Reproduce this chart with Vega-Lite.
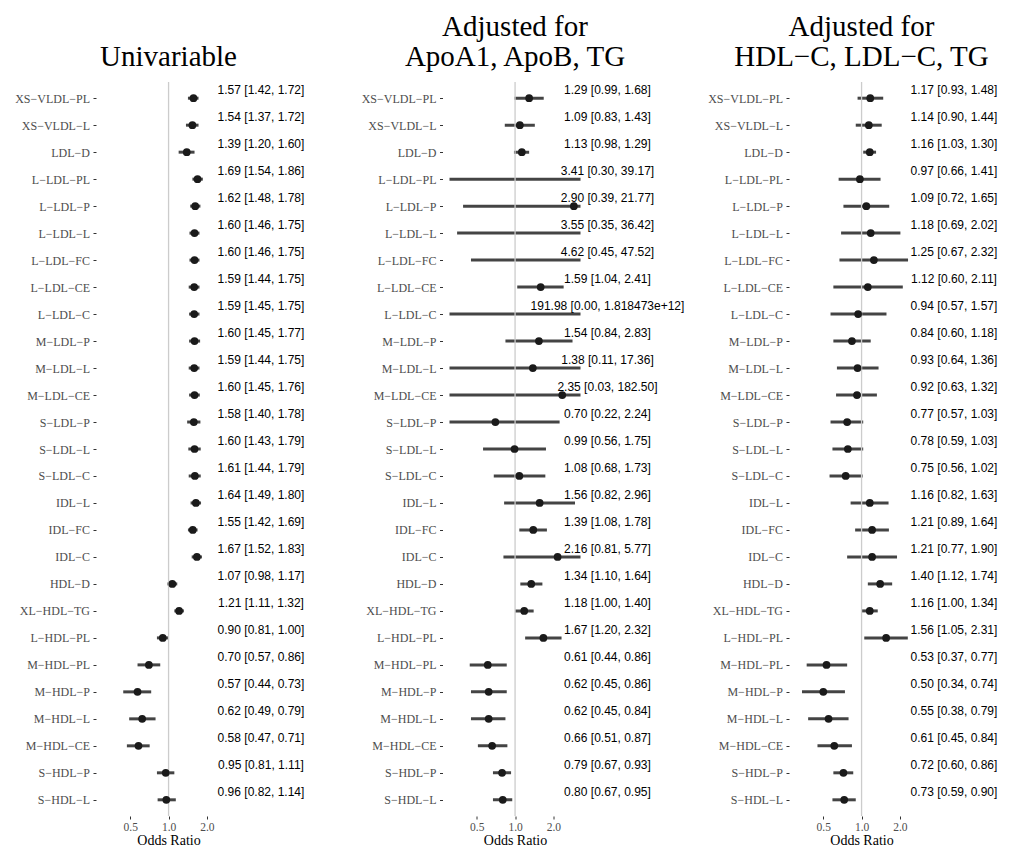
{
  "$schema": "https://vega.github.io/schema/vega-lite/v6.json",
  "padding": {"left": 14, "top": 13, "right": 0, "bottom": 0},
  "background": "white",
  "spacing": 215.5,
  "bounds": "flush",
  "datasets": {
    "d": [
      {"p": "u", "v": "XS\u2212VLDL\u2212PL", "or": 1.57, "lo": 1.42, "hi": 1.72, "label": "1.57 [1.42, 1.72]"},
      {"p": "u", "v": "XS\u2212VLDL\u2212L", "or": 1.54, "lo": 1.37, "hi": 1.72, "label": "1.54 [1.37, 1.72]"},
      {"p": "u", "v": "LDL\u2212D", "or": 1.39, "lo": 1.20, "hi": 1.60, "label": "1.39 [1.20, 1.60]"},
      {"p": "u", "v": "L\u2212LDL\u2212PL", "or": 1.69, "lo": 1.54, "hi": 1.86, "label": "1.69 [1.54, 1.86]"},
      {"p": "u", "v": "L\u2212LDL\u2212P", "or": 1.62, "lo": 1.48, "hi": 1.78, "label": "1.62 [1.48, 1.78]"},
      {"p": "u", "v": "L\u2212LDL\u2212L", "or": 1.60, "lo": 1.46, "hi": 1.75, "label": "1.60 [1.46, 1.75]"},
      {"p": "u", "v": "L\u2212LDL\u2212FC", "or": 1.60, "lo": 1.46, "hi": 1.75, "label": "1.60 [1.46, 1.75]"},
      {"p": "u", "v": "L\u2212LDL\u2212CE", "or": 1.59, "lo": 1.44, "hi": 1.75, "label": "1.59 [1.44, 1.75]"},
      {"p": "u", "v": "L\u2212LDL\u2212C", "or": 1.59, "lo": 1.45, "hi": 1.75, "label": "1.59 [1.45, 1.75]"},
      {"p": "u", "v": "M\u2212LDL\u2212P", "or": 1.60, "lo": 1.45, "hi": 1.77, "label": "1.60 [1.45, 1.77]"},
      {"p": "u", "v": "M\u2212LDL\u2212L", "or": 1.59, "lo": 1.44, "hi": 1.75, "label": "1.59 [1.44, 1.75]"},
      {"p": "u", "v": "M\u2212LDL\u2212CE", "or": 1.60, "lo": 1.45, "hi": 1.76, "label": "1.60 [1.45, 1.76]"},
      {"p": "u", "v": "S\u2212LDL\u2212P", "or": 1.58, "lo": 1.40, "hi": 1.78, "label": "1.58 [1.40, 1.78]"},
      {"p": "u", "v": "S\u2212LDL\u2212L", "or": 1.60, "lo": 1.43, "hi": 1.79, "label": "1.60 [1.43, 1.79]"},
      {"p": "u", "v": "S\u2212LDL\u2212C", "or": 1.61, "lo": 1.44, "hi": 1.79, "label": "1.61 [1.44, 1.79]"},
      {"p": "u", "v": "IDL\u2212L", "or": 1.64, "lo": 1.49, "hi": 1.80, "label": "1.64 [1.49, 1.80]"},
      {"p": "u", "v": "IDL\u2212FC", "or": 1.55, "lo": 1.42, "hi": 1.69, "label": "1.55 [1.42, 1.69]"},
      {"p": "u", "v": "IDL\u2212C", "or": 1.67, "lo": 1.52, "hi": 1.83, "label": "1.67 [1.52, 1.83]"},
      {"p": "u", "v": "HDL\u2212D", "or": 1.07, "lo": 0.98, "hi": 1.17, "label": "1.07 [0.98, 1.17]"},
      {"p": "u", "v": "XL\u2212HDL\u2212TG", "or": 1.21, "lo": 1.11, "hi": 1.32, "label": "1.21 [1.11, 1.32]"},
      {"p": "u", "v": "L\u2212HDL\u2212PL", "or": 0.90, "lo": 0.81, "hi": 1.00, "label": "0.90 [0.81, 1.00]"},
      {"p": "u", "v": "M\u2212HDL\u2212PL", "or": 0.70, "lo": 0.57, "hi": 0.86, "label": "0.70 [0.57, 0.86]"},
      {"p": "u", "v": "M\u2212HDL\u2212P", "or": 0.57, "lo": 0.44, "hi": 0.73, "label": "0.57 [0.44, 0.73]"},
      {"p": "u", "v": "M\u2212HDL\u2212L", "or": 0.62, "lo": 0.49, "hi": 0.79, "label": "0.62 [0.49, 0.79]"},
      {"p": "u", "v": "M\u2212HDL\u2212CE", "or": 0.58, "lo": 0.47, "hi": 0.71, "label": "0.58 [0.47, 0.71]"},
      {"p": "u", "v": "S\u2212HDL\u2212P", "or": 0.95, "lo": 0.81, "hi": 1.11, "label": "0.95 [0.81, 1.11]"},
      {"p": "u", "v": "S\u2212HDL\u2212L", "or": 0.96, "lo": 0.82, "hi": 1.14, "label": "0.96 [0.82, 1.14]"},

      {"p": "a", "v": "XS\u2212VLDL\u2212PL", "or": 1.29, "lo": 0.99, "hi": 1.68, "label": "1.29 [0.99, 1.68]"},
      {"p": "a", "v": "XS\u2212VLDL\u2212L", "or": 1.09, "lo": 0.83, "hi": 1.43, "label": "1.09 [0.83, 1.43]"},
      {"p": "a", "v": "LDL\u2212D", "or": 1.13, "lo": 0.98, "hi": 1.29, "label": "1.13 [0.98, 1.29]"},
      {"p": "a", "v": "L\u2212LDL\u2212PL", "or": 3.41, "lo": 0.30, "hi": 39.17, "label": "3.41 [0.30, 39.17]"},
      {"p": "a", "v": "L\u2212LDL\u2212P", "or": 2.90, "lo": 0.39, "hi": 21.77, "label": "2.90 [0.39, 21.77]"},
      {"p": "a", "v": "L\u2212LDL\u2212L", "or": 3.55, "lo": 0.35, "hi": 36.42, "label": "3.55 [0.35, 36.42]"},
      {"p": "a", "v": "L\u2212LDL\u2212FC", "or": 4.62, "lo": 0.45, "hi": 47.52, "label": "4.62 [0.45, 47.52]"},
      {"p": "a", "v": "L\u2212LDL\u2212CE", "or": 1.59, "lo": 1.04, "hi": 2.41, "label": "1.59 [1.04, 2.41]"},
      {"p": "a", "v": "L\u2212LDL\u2212C", "or": 191.98, "lo": 0.001, "hi": 1818473000000, "label": "191.98 [0.00, 1.818473e+12]"},
      {"p": "a", "v": "M\u2212LDL\u2212P", "or": 1.54, "lo": 0.84, "hi": 2.83, "label": "1.54 [0.84, 2.83]"},
      {"p": "a", "v": "M\u2212LDL\u2212L", "or": 1.38, "lo": 0.11, "hi": 17.36, "label": "1.38 [0.11, 17.36]"},
      {"p": "a", "v": "M\u2212LDL\u2212CE", "or": 2.35, "lo": 0.03, "hi": 182.50, "label": "2.35 [0.03, 182.50]"},
      {"p": "a", "v": "S\u2212LDL\u2212P", "or": 0.70, "lo": 0.22, "hi": 2.24, "label": "0.70 [0.22, 2.24]"},
      {"p": "a", "v": "S\u2212LDL\u2212L", "or": 0.99, "lo": 0.56, "hi": 1.75, "label": "0.99 [0.56, 1.75]"},
      {"p": "a", "v": "S\u2212LDL\u2212C", "or": 1.08, "lo": 0.68, "hi": 1.73, "label": "1.08 [0.68, 1.73]"},
      {"p": "a", "v": "IDL\u2212L", "or": 1.56, "lo": 0.82, "hi": 2.96, "label": "1.56 [0.82, 2.96]"},
      {"p": "a", "v": "IDL\u2212FC", "or": 1.39, "lo": 1.08, "hi": 1.78, "label": "1.39 [1.08, 1.78]"},
      {"p": "a", "v": "IDL\u2212C", "or": 2.16, "lo": 0.81, "hi": 5.77, "label": "2.16 [0.81, 5.77]"},
      {"p": "a", "v": "HDL\u2212D", "or": 1.34, "lo": 1.10, "hi": 1.64, "label": "1.34 [1.10, 1.64]"},
      {"p": "a", "v": "XL\u2212HDL\u2212TG", "or": 1.18, "lo": 1.00, "hi": 1.40, "label": "1.18 [1.00, 1.40]"},
      {"p": "a", "v": "L\u2212HDL\u2212PL", "or": 1.67, "lo": 1.20, "hi": 2.32, "label": "1.67 [1.20, 2.32]"},
      {"p": "a", "v": "M\u2212HDL\u2212PL", "or": 0.61, "lo": 0.44, "hi": 0.86, "label": "0.61 [0.44, 0.86]"},
      {"p": "a", "v": "M\u2212HDL\u2212P", "or": 0.62, "lo": 0.45, "hi": 0.86, "label": "0.62 [0.45, 0.86]"},
      {"p": "a", "v": "M\u2212HDL\u2212L", "or": 0.62, "lo": 0.45, "hi": 0.84, "label": "0.62 [0.45, 0.84]"},
      {"p": "a", "v": "M\u2212HDL\u2212CE", "or": 0.66, "lo": 0.51, "hi": 0.87, "label": "0.66 [0.51, 0.87]"},
      {"p": "a", "v": "S\u2212HDL\u2212P", "or": 0.79, "lo": 0.67, "hi": 0.93, "label": "0.79 [0.67, 0.93]"},
      {"p": "a", "v": "S\u2212HDL\u2212L", "or": 0.80, "lo": 0.67, "hi": 0.95, "label": "0.80 [0.67, 0.95]"},

      {"p": "h", "v": "XS\u2212VLDL\u2212PL", "or": 1.17, "lo": 0.93, "hi": 1.48, "label": "1.17 [0.93, 1.48]"},
      {"p": "h", "v": "XS\u2212VLDL\u2212L", "or": 1.14, "lo": 0.90, "hi": 1.44, "label": "1.14 [0.90, 1.44]"},
      {"p": "h", "v": "LDL\u2212D", "or": 1.16, "lo": 1.03, "hi": 1.30, "label": "1.16 [1.03, 1.30]"},
      {"p": "h", "v": "L\u2212LDL\u2212PL", "or": 0.97, "lo": 0.66, "hi": 1.41, "label": "0.97 [0.66, 1.41]"},
      {"p": "h", "v": "L\u2212LDL\u2212P", "or": 1.09, "lo": 0.72, "hi": 1.65, "label": "1.09 [0.72, 1.65]"},
      {"p": "h", "v": "L\u2212LDL\u2212L", "or": 1.18, "lo": 0.69, "hi": 2.02, "label": "1.18 [0.69, 2.02]"},
      {"p": "h", "v": "L\u2212LDL\u2212FC", "or": 1.25, "lo": 0.67, "hi": 2.32, "label": "1.25 [0.67, 2.32]"},
      {"p": "h", "v": "L\u2212LDL\u2212CE", "or": 1.12, "lo": 0.60, "hi": 2.11, "label": "1.12 [0.60, 2.11]"},
      {"p": "h", "v": "L\u2212LDL\u2212C", "or": 0.94, "lo": 0.57, "hi": 1.57, "label": "0.94 [0.57, 1.57]"},
      {"p": "h", "v": "M\u2212LDL\u2212P", "or": 0.84, "lo": 0.60, "hi": 1.18, "label": "0.84 [0.60, 1.18]"},
      {"p": "h", "v": "M\u2212LDL\u2212L", "or": 0.93, "lo": 0.64, "hi": 1.36, "label": "0.93 [0.64, 1.36]"},
      {"p": "h", "v": "M\u2212LDL\u2212CE", "or": 0.92, "lo": 0.63, "hi": 1.32, "label": "0.92 [0.63, 1.32]"},
      {"p": "h", "v": "S\u2212LDL\u2212P", "or": 0.77, "lo": 0.57, "hi": 1.03, "label": "0.77 [0.57, 1.03]"},
      {"p": "h", "v": "S\u2212LDL\u2212L", "or": 0.78, "lo": 0.59, "hi": 1.03, "label": "0.78 [0.59, 1.03]"},
      {"p": "h", "v": "S\u2212LDL\u2212C", "or": 0.75, "lo": 0.56, "hi": 1.02, "label": "0.75 [0.56, 1.02]"},
      {"p": "h", "v": "IDL\u2212L", "or": 1.16, "lo": 0.82, "hi": 1.63, "label": "1.16 [0.82, 1.63]"},
      {"p": "h", "v": "IDL\u2212FC", "or": 1.21, "lo": 0.89, "hi": 1.64, "label": "1.21 [0.89, 1.64]"},
      {"p": "h", "v": "IDL\u2212C", "or": 1.21, "lo": 0.77, "hi": 1.90, "label": "1.21 [0.77, 1.90]"},
      {"p": "h", "v": "HDL\u2212D", "or": 1.40, "lo": 1.12, "hi": 1.74, "label": "1.40 [1.12, 1.74]"},
      {"p": "h", "v": "XL\u2212HDL\u2212TG", "or": 1.16, "lo": 1.00, "hi": 1.34, "label": "1.16 [1.00, 1.34]"},
      {"p": "h", "v": "L\u2212HDL\u2212PL", "or": 1.56, "lo": 1.05, "hi": 2.31, "label": "1.56 [1.05, 2.31]"},
      {"p": "h", "v": "M\u2212HDL\u2212PL", "or": 0.53, "lo": 0.37, "hi": 0.77, "label": "0.53 [0.37, 0.77]"},
      {"p": "h", "v": "M\u2212HDL\u2212P", "or": 0.50, "lo": 0.34, "hi": 0.74, "label": "0.50 [0.34, 0.74]"},
      {"p": "h", "v": "M\u2212HDL\u2212L", "or": 0.55, "lo": 0.38, "hi": 0.79, "label": "0.55 [0.38, 0.79]"},
      {"p": "h", "v": "M\u2212HDL\u2212CE", "or": 0.61, "lo": 0.45, "hi": 0.84, "label": "0.61 [0.45, 0.84]"},
      {"p": "h", "v": "S\u2212HDL\u2212P", "or": 0.72, "lo": 0.60, "hi": 0.86, "label": "0.72 [0.60, 0.86]"},
      {"p": "h", "v": "S\u2212HDL\u2212L", "or": 0.73, "lo": 0.59, "hi": 0.90, "label": "0.73 [0.59, 0.90]"}
    ]
  },
  "data": {"name": "d"},
  "config": {
    "view": {"stroke": null},
    "title": {"fontSize": 29, "fontWeight": "normal", "color": "black", "anchor": "middle", "lineHeight": 30, "baseline": "bottom", "offset": 9},
    "axisY": {"title": null, "domain": false, "grid": false, "ticks": true, "tickSize": 3, "tickColor": "#333333", "offset": 7, "labelPadding": 3.5, "labelFontSize": 12, "labelColor": "#4d4d4d"}
  },
  "hconcat": [
    {
      "width": 131, "height": 734,
      "title": {"text": "Univariable", "font": "Liberation Serif"},
      "transform": [{"filter": "datum.p == 'u'"}],
      "layer": [
        {"mark": {"type": "rule", "clip": true, "color": "#444444", "strokeWidth": 3},
         "encoding": {
           "x": {"field": "lo", "type": "quantitative", "scale": {"type": "log", "domain": [0.305, 3.27], "nice": false},
                 "axis": {"values": [0.5, 1, 2], "format": ".1f", "domain": false, "grid": false, "ticks": true, "tickSize": 3, "tickColor": "#333333", "labelFont": "Liberation Serif", "labelFontSize": 11.5, "labelColor": "#4d4d4d", "labelPadding": 2, "title": "Odds Ratio", "titleFont": "Liberation Serif", "titleFontSize": 14, "titleFontWeight": "normal", "titleColor": "black", "titlePadding": 1}},
           "x2": {"field": "hi"},
           "y": {"field": "v", "type": "nominal", "sort": null, "scale": {"type": "point", "padding": 0.6}, "axis": {"labelFont": "Liberation Serif"}}}},
        {"data": {"values": [{"ref": 1}]},
         "mark": {"type": "rule", "color": "#cccccc", "strokeWidth": 1.3},
         "encoding": {"x": {"field": "ref", "type": "quantitative"}}},
        {"transform": [{"filter": "datum.or < 3.27 && datum.or > 0.305"}],
         "mark": {"type": "circle", "size": 60, "color": "#1a1a1a", "opacity": 1},
         "encoding": {"x": {"field": "or", "type": "quantitative"}, "y": {"field": "v", "type": "nominal", "sort": null}}},
        {"mark": {"type": "text", "font": "Liberation Sans", "fontSize": 12, "align": "center", "baseline": "alphabetic", "dy": -4, "color": "black"},
         "encoding": {"x": {"datum": 5.33, "type": "quantitative"}, "y": {"field": "v", "type": "nominal", "sort": null}, "text": {"field": "label"}}}
      ]
    },
    {
      "width": 131, "height": 734,
      "title": {"text": ["Adjusted for", "ApoA1, ApoB, TG"], "font": "Liberation Serif"},
      "transform": [{"filter": "datum.p == 'a'"}],
      "layer": [
        {"mark": {"type": "rule", "clip": true, "color": "#444444", "strokeWidth": 3},
         "encoding": {
           "x": {"field": "lo", "type": "quantitative", "scale": {"type": "log", "domain": [0.305, 3.27], "nice": false},
                 "axis": {"values": [0.5, 1, 2], "format": ".1f", "domain": false, "grid": false, "ticks": true, "tickSize": 3, "tickColor": "#333333", "labelFont": "Liberation Serif", "labelFontSize": 11.5, "labelColor": "#4d4d4d", "labelPadding": 2, "title": "Odds Ratio", "titleFont": "Liberation Serif", "titleFontSize": 14, "titleFontWeight": "normal", "titleColor": "black", "titlePadding": 1}},
           "x2": {"field": "hi"},
           "y": {"field": "v", "type": "nominal", "sort": null, "scale": {"type": "point", "padding": 0.6}, "axis": {"labelFont": "Liberation Serif"}}}},
        {"data": {"values": [{"ref": 1}]},
         "mark": {"type": "rule", "color": "#cccccc", "strokeWidth": 1.3},
         "encoding": {"x": {"field": "ref", "type": "quantitative"}}},
        {"transform": [{"filter": "datum.or < 3.27 && datum.or > 0.305"}],
         "mark": {"type": "circle", "size": 60, "color": "#1a1a1a", "opacity": 1},
         "encoding": {"x": {"field": "or", "type": "quantitative"}, "y": {"field": "v", "type": "nominal", "sort": null}}},
        {"mark": {"type": "text", "font": "Liberation Sans", "fontSize": 12, "align": "center", "baseline": "alphabetic", "dy": -4, "color": "black"},
         "encoding": {"x": {"datum": 5.33, "type": "quantitative"}, "y": {"field": "v", "type": "nominal", "sort": null}, "text": {"field": "label"}}}
      ]
    },
    {
      "width": 131, "height": 734,
      "title": {"text": ["Adjusted for", "HDL\u2212C, LDL\u2212C, TG"], "font": "Liberation Serif"},
      "transform": [{"filter": "datum.p == 'h'"}],
      "layer": [
        {"mark": {"type": "rule", "clip": true, "color": "#444444", "strokeWidth": 3},
         "encoding": {
           "x": {"field": "lo", "type": "quantitative", "scale": {"type": "log", "domain": [0.305, 3.27], "nice": false},
                 "axis": {"values": [0.5, 1, 2], "format": ".1f", "domain": false, "grid": false, "ticks": true, "tickSize": 3, "tickColor": "#333333", "labelFont": "Liberation Serif", "labelFontSize": 11.5, "labelColor": "#4d4d4d", "labelPadding": 2, "title": "Odds Ratio", "titleFont": "Liberation Serif", "titleFontSize": 14, "titleFontWeight": "normal", "titleColor": "black", "titlePadding": 1}},
           "x2": {"field": "hi"},
           "y": {"field": "v", "type": "nominal", "sort": null, "scale": {"type": "point", "padding": 0.6}, "axis": {"labelFont": "Liberation Serif"}}}},
        {"data": {"values": [{"ref": 1}]},
         "mark": {"type": "rule", "color": "#cccccc", "strokeWidth": 1.3},
         "encoding": {"x": {"field": "ref", "type": "quantitative"}}},
        {"transform": [{"filter": "datum.or < 3.27 && datum.or > 0.305"}],
         "mark": {"type": "circle", "size": 60, "color": "#1a1a1a", "opacity": 1},
         "encoding": {"x": {"field": "or", "type": "quantitative"}, "y": {"field": "v", "type": "nominal", "sort": null}}},
        {"mark": {"type": "text", "font": "Liberation Sans", "fontSize": 12, "align": "center", "baseline": "alphabetic", "dy": -4, "color": "black"},
         "encoding": {"x": {"datum": 5.33, "type": "quantitative"}, "y": {"field": "v", "type": "nominal", "sort": null}, "text": {"field": "label"}}}
      ]
    }
  ]
}
